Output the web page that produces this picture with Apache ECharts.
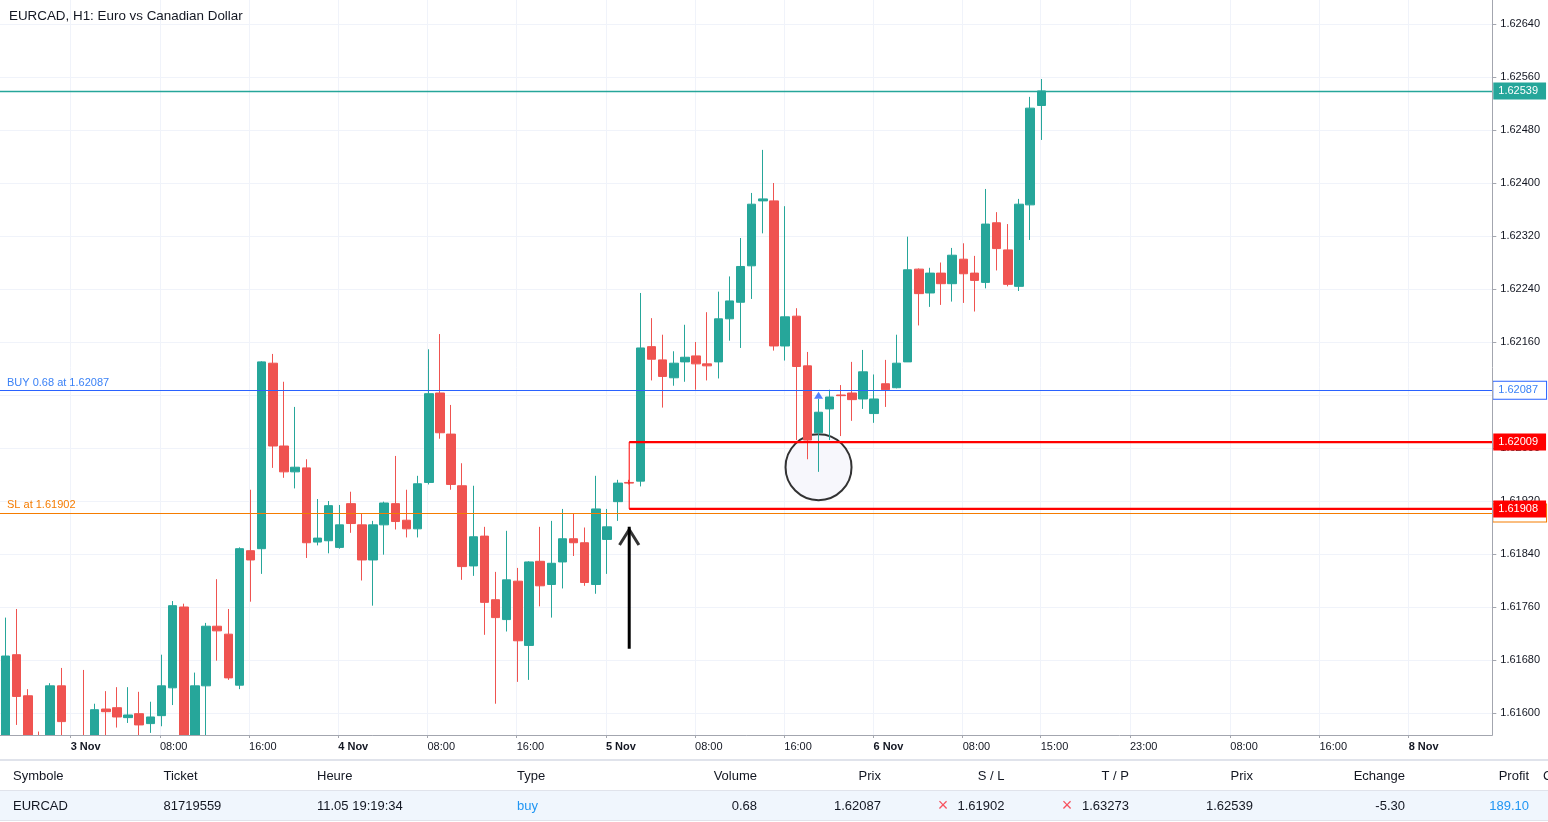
<!DOCTYPE html>
<html>
<head>
<meta charset="utf-8">
<script src="https://cdn.jsdelivr.net/npm/echarts@6/dist/echarts.min.js"></script>
<style>
html,body{margin:0;padding:0;background:#fff;}
#chart{width:1548px;height:822px;}
</style>
</head>
<body>
<div id="chart"></div>
<script>
// ---------------- DATA ----------------
const chartTitle = 'EURCAD, H1: Euro vs Canadian Dollar';

// hourly slots: first bar 2 Nov 18:00, chart runs on into the empty future area
const firstDay = 2, firstHour = 18, slotCount = 134;
const categories = [];
for (let i = 0; i < slotCount; i++) {
  const h = firstHour + i;
  categories.push((firstDay + Math.floor(h / 24)) + ' Nov ' + String(h % 24).padStart(2, '0') + ':00');
}

const open = [
  1.61545,1.61688,1.61626,1.61545,1.61525,1.61641,1.61555,1.61545,1.61530,1.61606,
  1.61608,1.61593,1.61599,1.61584,1.61596,1.61638,1.61760,1.61555,1.61641,1.61731,
  1.61719,1.61642,1.61845,1.61848,1.62128,1.62003,1.61964,1.61970,1.61858,1.61860,
  1.61850,1.61916,1.61884,1.61831,1.61884,1.61916,1.61891,1.61878,1.61948,1.62083,
  1.62021,1.61943,1.61822,1.61867,1.61771,1.61741,1.61799,1.61702,1.61829,1.61794,
  1.61828,1.61863,1.61857,1.61794,1.61862,1.61919,1.61948,1.61950,1.62153,1.62133,
  1.62106,1.62130,1.62139,1.62127,1.62130,1.62195,1.62220,1.62275,1.62373,1.62373,
  1.62154,1.62199,1.62124,1.62023,1.62059,1.62080,1.62083,1.62074,1.62052,1.62097,
  1.62091,1.62130,1.62270,1.62234,1.62264,1.62248,1.62285,1.62264,1.62250,1.62340,
  1.62299,1.62244,1.62367,1.62517
];
const high = [
  1.61744,1.61757,1.61636,1.61572,1.61645,1.61668,1.61564,1.61665,1.61614,1.61633,
  1.61639,1.61639,1.61632,1.61617,1.61688,1.61769,1.61765,1.61661,1.61736,1.61802,
  1.61757,1.61850,1.61937,1.62131,1.62142,1.62100,1.62062,1.61983,1.61923,1.61920,
  1.61914,1.61934,1.61901,1.61890,1.61919,1.61988,1.61937,1.61958,1.62149,1.62172,
  1.62065,1.61977,1.61943,1.61881,1.61813,1.61875,1.61819,1.61829,1.61881,1.61890,
  1.61908,1.61901,1.61880,1.61958,1.61908,1.61952,1.61952,1.62234,1.62196,1.62171,
  1.62146,1.62186,1.62160,1.62205,1.62236,1.62259,1.62317,1.62385,1.62450,1.62400,
  1.62365,1.62211,1.62145,1.62074,1.62088,1.62095,1.62130,1.62148,1.62111,1.62133,
  1.62171,1.62319,1.62271,1.62272,1.62280,1.62302,1.62309,1.62290,1.62391,1.62356,
  1.62338,1.62376,1.62530,1.62557
];
const low = [
  1.61530,1.61582,1.61525,1.61500,1.61510,1.61540,1.61500,1.61510,1.61520,1.61550,
  1.61578,1.61585,1.61555,1.61570,1.61580,1.61612,1.61540,1.61545,1.61560,1.61679,
  1.61650,1.61636,1.61768,1.61810,1.61970,1.61955,1.61939,1.61834,1.61853,1.61841,
  1.61848,1.61872,1.61800,1.61762,1.61839,1.61877,1.61865,1.61865,1.61945,1.62014,
  1.61937,1.61801,1.61807,1.61718,1.61614,1.61723,1.61647,1.61650,1.61761,1.61744,
  1.61788,1.61837,1.61792,1.61780,1.61810,1.61890,1.61945,1.61942,1.62102,1.62061,
  1.62094,1.62100,1.62088,1.62102,1.62105,1.62162,1.62151,1.62225,1.62324,1.62147,
  1.62132,1.62012,1.61983,1.61964,1.62012,1.62018,1.62041,1.62059,1.62038,1.62062,
  1.62090,1.62130,1.62185,1.62213,1.62216,1.62221,1.62219,1.62206,1.62241,1.62268,
  1.62244,1.62237,1.62314,1.62465
];
const close = [
  1.61686,1.61625,1.61540,1.61520,1.61641,1.61587,1.61520,1.61530,1.61605,1.61602,
  1.61594,1.61597,1.61582,1.61594,1.61641,1.61762,1.61555,1.61641,1.61731,1.61724,
  1.61653,1.61848,1.61831,1.62130,1.62003,1.61964,1.61971,1.61857,1.61864,1.61913,
  1.61884,1.61886,1.61831,1.61884,1.61917,1.61889,1.61878,1.61946,1.62082,1.62023,
  1.61945,1.61821,1.61866,1.61767,1.61744,1.61801,1.61709,1.61828,1.61792,1.61826,
  1.61863,1.61857,1.61797,1.61908,1.61881,1.61947,1.61947,1.62151,1.62134,1.62108,
  1.62128,1.62137,1.62127,1.62124,1.62195,1.62222,1.62274,1.62368,1.62376,1.62154,
  1.62198,1.62123,1.62012,1.62054,1.62077,1.62079,1.62073,1.62115,1.62074,1.62088,
  1.62128,1.62269,1.62233,1.62264,1.62248,1.62291,1.62263,1.62253,1.62338,1.62301,
  1.62247,1.62368,1.62513,1.62539
];

// time-axis tick labels (category -> shown text)
const tickLabels = {
  '3 Nov 00:00': '3 Nov', '3 Nov 08:00': '08:00', '3 Nov 16:00': '16:00',
  '4 Nov 00:00': '4 Nov', '4 Nov 08:00': '08:00', '4 Nov 16:00': '16:00',
  '5 Nov 00:00': '5 Nov', '5 Nov 08:00': '08:00', '5 Nov 16:00': '16:00',
  '6 Nov 00:00': '6 Nov', '6 Nov 08:00': '08:00', '6 Nov 15:00': '15:00',
  '6 Nov 23:00': '23:00', '7 Nov 08:00': '08:00', '7 Nov 16:00': '16:00',
  '8 Nov 00:00': '8 Nov'
};
const dayTickLabels = ['3 Nov', '4 Nov', '5 Nov', '6 Nov', '8 Nov'];

// price-axis ticks
const priceTickMin = 1.6160, priceTickMax = 1.6264, priceTickStep = 0.0008;

// trade / annotation values
const lastPrice = 1.62539;
const buyPrice = 1.62087, buyVolume = 0.68, buyTime = '5 Nov 19:00';
const slPrice = 1.61902;
const zoneTop = 1.62009, zoneBottom = 1.61908, zoneStart = '5 Nov 02:00';
const arrowTime = '5 Nov 02:00', arrowFrom = 1.61697, arrowTo = 1.61881;
const circleTime = '5 Nov 19:00', circlePrice = 1.61971;

// positions table
const tableHeader = ['Symbole', 'Ticket', 'Heure', 'Type', 'Volume', 'Prix', 'S / L', 'T / P', 'Prix', 'Echange', 'Profit', 'Commentaire'];
const tableRow = ['EURCAD', '81719559', '11.05 19:19:34', 'buy', '0.68', '1.62087', '1.61902', '1.63273', '1.62539', '-5.30', '189.10', ''];

// ---------------- LAYOUT ----------------
const FONT = '"Liberation Sans", Arial, sans-serif';
const TXT = '#131722';
const GRIDC = '#f0f3fa';
const AXISC = '#a3a6af';
const UP = '#26a69a', DOWN = '#ef5350';
const RED = '#ff0000', BLUE = '#2962ff', ORANGE = '#f57c00';
const CLEAR = 'rgba(0,0,0,0)';

const plotLeft = -1.8, plotRight = 1492.3, plotBottom = 735;
const labelTop = 24, labelBottom = 713; // pixel rows of priceTickMax / priceTickMin
const plotWidth = plotRight - plotLeft;
const slot = plotWidth / slotCount;
const pxPerUnit = (labelBottom - labelTop) / (priceTickMax - priceTickMin);
const viewMin = priceTickMin - (plotBottom - labelBottom) / pxPerUnit;
const viewMax = priceTickMax + labelTop / pxPerUnit;

const idx = t => categories.indexOf(t);
const xEnd = slotCount - 0.5;
const ohlc = open.map((o, i) => [o, close[i], low[i], high[i]]);
const isTick = (i, v) => Object.prototype.hasOwnProperty.call(tickLabels, v);

function endLabel(bg, fg, border) {
  return {
    show: true, position: 'end', distance: 1,
    formatter: p => Number(p.value).toFixed(5),
    backgroundColor: bg, color: fg, borderColor: border || bg, borderWidth: border ? 1 : 0,
    padding: [2, 8, 2, 5], fontSize: 11, lineHeight: 13, fontFamily: FONT
  };
}

// cover for the area under the time axis + positions table
const colX = [13, 163.5, 317, 517, 757, 881, 1004.5, 1129, 1253, 1405, 1529, 1543];
const colAlign = ['left','left','left','left','right','right','right','right','right','right','right','left'];
const graphics = [
  {type: 'rect', z: 5, shape: {x: -5, y: 735.5, width: 1560, height: 90}, style: {fill: '#ffffff'}},
  {type: 'rect', z: 6, shape: {x: 0, y: 759, width: 1548, height: 2}, style: {fill: '#e0e3eb'}},
  {type: 'rect', z: 6, shape: {x: 0, y: 791, width: 1548, height: 29}, style: {fill: '#f0f6fd'}},
  {type: 'rect', z: 6, shape: {x: 0, y: 790, width: 1548, height: 1}, style: {fill: '#e0e3eb'}},
  {type: 'rect', z: 6, shape: {x: 0, y: 820, width: 1548, height: 1}, style: {fill: '#e0e3eb'}}
];
tableHeader.forEach((t, i) => graphics.push({
  type: 'text', z: 7, x: colX[i], y: 776,
  style: {text: t, fill: TXT, font: '13px ' + FONT, textAlign: colAlign[i], textVerticalAlign: 'middle'}
}));
tableRow.forEach((t, i) => {
  const blue = (i === 3 || i === 10);
  graphics.push({
    type: 'text', z: 7, x: colX[i], y: 806,
    style: {text: t, fill: blue ? '#2196f3' : TXT, font: '13px ' + FONT, textAlign: colAlign[i], textVerticalAlign: 'middle'}
  });
});
[943, 1067].forEach(x => graphics.push({
  type: 'text', z: 7, x: x, y: 806,
  style: {text: '\u00d7', fill: '#f7525f', font: '18px ' + FONT, textAlign: 'center', textVerticalAlign: 'middle'}
}));

const tickGrid = {left: plotLeft + slot / 2, top: 0, width: slot * (slotCount - 1), height: plotBottom};

// ---------------- CHART ----------------
const chart = echarts.init(document.getElementById('chart'));
chart.setOption({
  animation: false,
  backgroundColor: '#ffffff',
  title: {
    text: chartTitle, left: 9, top: 10, padding: 0,
    textStyle: {fontSize: 13.4, fontWeight: 'normal', color: TXT, fontFamily: FONT}
  },
  grid: [
    {left: plotLeft, top: 0, width: plotWidth, height: plotBottom},
    {left: plotLeft, top: labelTop, width: plotWidth, height: labelBottom - labelTop},
    Object.assign({}, tickGrid),
    Object.assign({}, tickGrid)
  ],
  xAxis: [
    {type: 'category', gridIndex: 0, data: categories, boundaryGap: true, z: 10,
     axisLine: {show: true, onZero: false, lineStyle: {color: AXISC}},
     axisTick: {show: false}, axisLabel: {show: false}, splitLine: {show: false}},
    {type: 'value', gridIndex: 1, min: -0.5, max: xEnd, show: false,
     axisLine: {onZero: false}, splitLine: {show: false}},
    // vertical grid lines (beneath the candles)
    {type: 'category', gridIndex: 2, data: categories, boundaryGap: false, z: 0,
     axisLine: {show: false, onZero: false}, axisTick: {show: false}, axisLabel: {show: false},
     splitLine: {show: true, interval: isTick, lineStyle: {color: GRIDC, width: 1}}},
    // time labels + ticks (above the cover)
    {type: 'category', gridIndex: 3, data: categories, boundaryGap: false, z: 10,
     axisLine: {show: false, onZero: false},
     axisTick: {show: true, interval: isTick, length: 3, lineStyle: {color: AXISC}},
     splitLine: {show: false},
     axisLabel: {
       interval: isTick, align: 'left', margin: 6, fontSize: 11, color: TXT, fontFamily: FONT,
       formatter: v => {
         const t = tickLabels[v];
         if (t == null) return '';
         return dayTickLabels.indexOf(t) >= 0 ? '{b|' + t + '}' : t;
       },
       rich: {b: {fontWeight: 'bold', fontSize: 11, color: TXT, fontFamily: FONT}}
     }}
  ],
  yAxis: [
    {type: 'value', gridIndex: 0, position: 'right', min: viewMin, max: viewMax, z: 10,
     axisLine: {show: true, onZero: false, lineStyle: {color: AXISC}},
     axisTick: {show: false}, axisLabel: {show: false}, splitLine: {show: false}},
    {type: 'value', gridIndex: 1, position: 'right', min: priceTickMin, max: priceTickMax, interval: priceTickStep,
     axisLine: {show: false, onZero: false},
     axisTick: {show: true, length: 4, lineStyle: {color: AXISC}},
     axisLabel: {margin: 8, fontSize: 11, color: TXT, fontFamily: FONT, formatter: v => v.toFixed(5)},
     splitLine: {show: true, lineStyle: {color: GRIDC, width: 1}}},
    {type: 'value', gridIndex: 2, min: 0, max: 1, show: false, axisLine: {onZero: false}},
    {type: 'value', gridIndex: 3, min: 0, max: 1, show: false, axisLine: {onZero: false}}
  ],
  series: [
    {
      type: 'scatter', xAxisIndex: 1, yAxisIndex: 1, z: 1, silent: true,
      data: [[idx(circleTime), circlePrice]], symbolSize: 66,
      itemStyle: {color: '#f5f5fb', borderColor: '#000', borderWidth: 2}
    },
    {
      type: 'candlestick', xAxisIndex: 0, yAxisIndex: 0, z: 2, silent: true,
      data: ohlc, barWidth: 9, clip: true,
      itemStyle: {color: UP, color0: DOWN, borderColor: UP, borderColor0: DOWN, borderWidth: 1}
    },
    {
      type: 'line', xAxisIndex: 1, yAxisIndex: 1, z: 3, silent: true, symbol: 'none',
      data: [[idx(zoneStart), zoneTop], [xEnd, zoneTop]],
      lineStyle: {color: RED, width: 2.2}
    },
    {
      type: 'line', xAxisIndex: 1, yAxisIndex: 1, z: 3, silent: true, symbol: 'none',
      data: [[idx(zoneStart), zoneBottom], [xEnd, zoneBottom]],
      lineStyle: {color: RED, width: 2.2}
    },
    {
      type: 'line', xAxisIndex: 1, yAxisIndex: 1, z: 3, silent: true, symbol: 'none',
      data: [[idx(zoneStart), zoneTop], [idx(zoneStart), zoneBottom]],
      lineStyle: {color: RED, width: 1}
    },
    {
      type: 'line', xAxisIndex: 1, yAxisIndex: 1, z: 3, silent: true, symbol: 'none',
      data: [[idx(arrowTime), arrowFrom], [idx(arrowTime), arrowTo]],
      lineStyle: {color: '#000', width: 3}
    },
    {
      type: 'scatter', xAxisIndex: 1, yAxisIndex: 1, z: 3, silent: true,
      data: [[idx(arrowTime), arrowTo]],
      symbol: 'path://M0,17 L11,0 L22,17 L19.4,18.6 L11,5.2 L2.6,18.6 Z',
      symbolSize: [22, 19], symbolOffset: [0, '50%'],
      itemStyle: {color: '#000'}
    },
    {
      type: 'scatter', xAxisIndex: 1, yAxisIndex: 1, z: 3, silent: true,
      data: [[idx(buyTime), buyPrice]],
      symbol: 'triangle', symbolSize: [9, 7], symbolOffset: [0, 5],
      itemStyle: {color: BLUE}
    },
    {
      type: 'line', xAxisIndex: 1, yAxisIndex: 1, z: 4, silent: true, data: [],
      markLine: {
        silent: true, symbol: ['none', 'none'], animation: false, precision: 5,
        data: [
          {yAxis: slPrice, lineStyle: {color: ORANGE, width: 1.2, type: 'solid', opacity: 1},
           label: {show: true, position: 'insideStartTop', distance: [7, 2], formatter: 'SL at ' + slPrice.toFixed(5),
                   color: '#f57c00', fontSize: 11, fontFamily: FONT}},
          {yAxis: slPrice, lineStyle: {color: ORANGE, width: 1.2, type: 'solid', opacity: 1},
           label: endLabel('#ffffff', '#f57c00', ORANGE)},
          {yAxis: buyPrice, lineStyle: {color: BLUE, width: 1, type: 'solid', opacity: 1},
           label: {show: true, position: 'insideStartTop', distance: [7, 2],
                   formatter: 'BUY ' + buyVolume.toFixed(2) + ' at ' + buyPrice.toFixed(5),
                   color: '#3b82f6', fontSize: 11, fontFamily: FONT}},
          {yAxis: buyPrice, lineStyle: {color: BLUE, width: 1, type: 'solid', opacity: 1},
           label: endLabel('#ffffff', '#3b82f6', BLUE)},
          {yAxis: lastPrice, lineStyle: {color: UP, width: 1.3, type: 'solid', opacity: 1},
           label: endLabel(UP, '#ffffff')},
          {yAxis: zoneTop, lineStyle: {color: CLEAR, width: 1, type: 'solid'},
           label: endLabel(RED, '#ffffff')},
          {yAxis: zoneBottom, lineStyle: {color: CLEAR, width: 1, type: 'solid'},
           label: endLabel(RED, '#ffffff')}
        ]
      }
    }
  ],
  graphic: graphics
});
</script>
</body>
</html>
